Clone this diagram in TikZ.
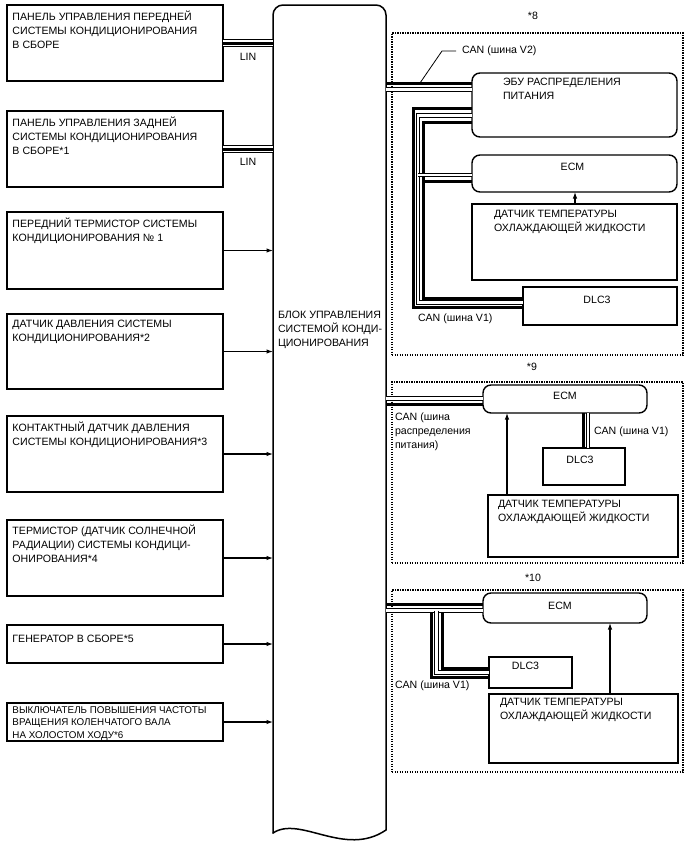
\documentclass[tikz,border=0pt]{standalone}
\usepackage{fontspec}
\setmainfont{Liberation Sans}
\usetikzlibrary{arrows.meta}

\begin{document}
\begin{tikzpicture}[x=1pt,y=1pt,inner sep=0pt,outer sep=0pt,line width=1.4pt,
font=\fontsize{10.6}{14}\selectfont,>={Latex[length=6.5pt,width=4.5pt]},
sysbox/.style={draw,rectangle,anchor=north west,line width=1.4pt},
ecubox/.style={sysbox,rounded corners=8pt},
txt/.style={anchor=north west,align=left,execute at begin node=\strut},
tl/.style={txt,xshift=5.5pt,yshift=-5.8pt},
tc/.style={anchor=north,yshift=-5.8pt,execute at begin node=\strut},
grp/.style={draw,rectangle,anchor=north west,line width=1.2pt,dash pattern=on 1.2pt off 1.3pt},
sig/.style={->,line width=1.1pt},
wthk/.style={line width=3pt},
wdbl/.style={line width=1pt,double=white,double distance=2.2pt},
linbus/.style={line width=8.5pt,postaction={draw=white,line width=6.3pt},postaction={draw=black,line width=3pt}}]

\useasboundingbox (0,0) rectangle (688,-852);

%%% Central A/C control unit %%%%%
\path (273,-5) node[anchor=north west,minimum width=113pt,minimum height=828pt] (acecu) {};
\draw[line width=1.5pt,line cap=round,rounded corners=10pt] (acecu.south west) -- (acecu.north west) -- (acecu.north east) -- ([yshift=3pt]acecu.south east);
\draw[line width=1.5pt,line cap=round] ([yshift=3pt]acecu.south east) .. controls +(-41,-28) and +(27,18) .. (acecu.south west);
\draw (278,-311) node[txt] (acecutxt) {БЛОК УПРАВЛЕНИЯ\\СИСТЕМОЙ КОНДИ-\\ЦИОНИРОВАНИЯ};

%%% Inputs on the left %%%%%
\draw (7,-5) node[sysbox,minimum width=216pt,minimum height=76pt,
  label={[tl]north west:{ПАНЕЛЬ УПРАВЛЕНИЯ ПЕРЕДНЕЙ\\СИСТЕМЫ КОНДИЦИОНИРОВАНИЯ\\В СБОРЕ}}] (pfront) {};
\draw (7,-111) node[sysbox,minimum width=216pt,minimum height=76pt,
  label={[tl]north west:{ПАНЕЛЬ УПРАВЛЕНИЯ ЗАДНЕЙ\\СИСТЕМЫ КОНДИЦИОНИРОВАНИЯ\\В СБОРЕ*1}}] (prear) {};
\draw (7,-212) node[sysbox,minimum width=216pt,minimum height=77pt,
  label={[tl]north west:{ПЕРЕДНИЙ ТЕРМИСТОР СИСТЕМЫ\\КОНДИЦИОНИРОВАНИЯ № 1}}] (thfront) {};
\draw (7,-314) node[sysbox,minimum width=216pt,minimum height=75pt,
  label={[tl]north west:{ДАТЧИК ДАВЛЕНИЯ СИСТЕМЫ\\КОНДИЦИОНИРОВАНИЯ*2}}] (psens) {};
\draw (7,-416) node[sysbox,minimum width=216pt,minimum height=76pt,
  label={[tl]north west:{КОНТАКТНЫЙ ДАТЧИК ДАВЛЕНИЯ\\СИСТЕМЫ КОНДИЦИОНИРОВАНИЯ*3}}] (pswitch) {};
\draw (7,-520) node[sysbox,minimum width=216pt,minimum height=76pt,
  label={[tl,yshift=1pt]north west:{ТЕРМИСТОР (ДАТЧИК СОЛНЕЧНОЙ\\РАДИАЦИИ) СИСТЕМЫ КОНДИЦИ-\\ОНИРОВАНИЯ*4}}] (solar) {};
\draw (7,-625) node[sysbox,minimum width=216pt,minimum height=38pt,
  label={[tl,yshift=-2pt]north west:{ГЕНЕРАТОР В СБОРЕ*5}}] (alt) {};
\draw (7,-703) node[sysbox,minimum width=216pt,minimum height=38pt,
  label={[tl,yshift=2.3pt,font=\fontsize{9.8}{12.5}\selectfont]north west:{ВЫКЛЮЧАТЕЛЬ ПОВЫШЕНИЯ ЧАСТОТЫ\\ВРАЩЕНИЯ КОЛЕНЧАТОГО ВАЛА\\НА ХОЛОСТОМ ХОДУ*6}}] (idlesw) {};

%%% Left connections
	\draw[linbus] (pfront.east) -- (pfront.east -| acecu.west) node[pos=0.5,below=10pt] (lin1) {LIN};
	\draw[linbus] (prear.east) -- (prear.east -| acecu.west) node[pos=0.5,below=9.5pt] (lin2) {LIN};
\draw[sig] (thfront.east) -- (thfront.east -| acecu.west);
\draw[sig] (psens.east) -- (psens.east -| acecu.west);
\draw[sig] (pswitch.east) -- (pswitch.east -| acecu.west);
\draw[sig] (solar.east) -- (solar.east -| acecu.west);
\draw[sig] (alt.east) -- (alt.east -| acecu.west);
\draw[sig] (idlesw.east) -- (idlesw.east -| acecu.west);

%%% Variant *8 %%%%%
\draw (533,-16) node (n8) {*8};
\draw (392,-33) node[grp,minimum width=291pt,minimum height=322pt] (g8) {};
\draw (472,-73) node[ecubox,minimum width=205pt,minimum height=64pt,
  label={[tl,xshift=25.5pt,yshift=1pt]north west:{ЭБУ РАСПРЕДЕЛЕНИЯ\\ПИТАНИЯ}}] (ebuA) {};
\draw (472,-155) node[ecubox,minimum width=205pt,minimum height=37pt,label={[tc,xshift=-2pt]north:ECM}] (ecmA) {};
\draw (472,-204) node[sysbox,minimum width=205pt,minimum height=76pt,
  label={[tl,xshift=16.5pt]north west:{ДАТЧИК ТЕМПЕРАТУРЫ\\ОХЛАЖДАЮЩЕЙ ЖИДКОСТИ}}] (sensA) {};
\draw (523,-287) node[sysbox,minimum width=154pt,minimum height=38pt,label={[tc,xshift=-3pt,yshift=-1pt]north:DLC3}] (dlcA) {};

	%%% CAN V2 to the power distribution ECU
	\draw[wthk] ([yshift=22pt]ebuA.west) -- ([yshift=22pt]ebuA.west -| acecu.east);
	\draw[wdbl] ([yshift=15.5pt]ebuA.west) -- ([yshift=15.5pt]ebuA.west -| acecu.east);
	\coordinate (v2pt) at ([xshift=-52pt,yshift=22pt]ebuA.west);
	\draw[line width=0.8pt] (v2pt) -- ++(22,32) -- ++(14,0) node[right=6pt] (canv2) {CAN (шина V2)};

	%%% CAN V1 bundle
	\draw[wthk] ([yshift=-3.5pt]ebuA.west) -- ++(-59,0) |- ([yshift=-1.5pt]dlcA.west);
	\draw[wdbl] ([yshift=-10.5pt]ebuA.west) -- ++(-54,0) |- ([yshift=3.5pt]dlcA.west);
	\draw[wthk] ([yshift=-17pt]ebuA.west) -- ++(-49,0) |- ([yshift=8pt]dlcA.west);
	\draw[wthk] ([yshift=-7.5pt]ecmA.west) -- ++(-49,0);
	\draw[wdbl] ([yshift=-1.5pt]ecmA.west) -- ++(-54,0);
\draw (418,-312) node[txt] (canv1a) {CAN (шина V1)};
\draw[sig] ([xshift=103pt]sensA.north west) -- ([xshift=103pt]sensA.north west |- ecmA.south);

%%% Variant *9 %%%%%
\draw (532,-367) node (n9) {*9};
\draw (392,-382) node[grp,minimum width=291pt,minimum height=181pt] (g9) {};
\draw (483,-385) node[ecubox,minimum width=164pt,minimum height=28pt,label={[tc,yshift=1pt]north:ECM}] (ecmB) {};
\draw (543,-448) node[sysbox,minimum width=82pt,minimum height=37pt,label={[tc,xshift=-4pt]north:DLC3}] (dlcB) {};
\draw (488,-495) node[sysbox,minimum width=190pt,minimum height=62pt,
  label={[tl,xshift=4.5pt,yshift=1pt]north west:{ДАТЧИК ТЕМПЕРАТУРЫ\\ОХЛАЖДАЮЩЕЙ ЖИДКОСТИ}}] (sensB) {};

	\draw[wdbl] ([yshift=0.5pt]ecmB.west) -- ([yshift=0.5pt]ecmB.west -| acecu.east);
	\draw[wthk] ([yshift=-5pt]ecmB.west) -- ([yshift=-5pt]ecmB.west -| acecu.east);
\draw (395,-413) node[txt] (canpwr) {CAN (шина\\распределения\\питания)};
	\draw[wthk] ([xshift=18pt]ecmB.south) -- ([xshift=18pt]ecmB.south |- dlcB.north);
	\draw[wdbl] ([xshift=23pt]ecmB.south) -- ([xshift=23pt]ecmB.south |- dlcB.north);
\draw (594,-425) node[txt] (canv1b) {CAN (шина V1)};
\draw[sig] ([xshift=19pt]sensB.north west) -- ([xshift=19pt]sensB.north west |- ecmB.south);

%%% Variant *10 %%%%%
\draw (533,-578) node (n10) {*10};
\draw (392,-590) node[grp,minimum width=291pt,minimum height=182pt] (g10) {};
\draw (483,-593) node[ecubox,minimum width=164pt,minimum height=30pt,label={[tc,yshift=-1pt,xshift=-5pt]north:ECM}] (ecmC) {};
\draw (489,-657) node[sysbox,minimum width=83pt,minimum height=31pt,label={[tc,yshift=3pt,xshift=-5pt]north:DLC3}] (dlcC) {};
\draw (489,-694) node[sysbox,minimum width=189pt,minimum height=69pt,
  label={[tl,xshift=5.5pt,yshift=2pt]north west:{ДАТЧИК ТЕМПЕРАТУРЫ\\ОХЛАЖДАЮЩЕЙ ЖИДКОСТИ}}] (sensC) {};

	\draw[wthk] ([yshift=4pt]ecmC.west) -- ([yshift=4pt]ecmC.west -| acecu.east);
	\draw[wdbl] ([yshift=-2.5pt]ecmC.west) -- ([yshift=-2.5pt]ecmC.west -| acecu.east);
	%%% Include the branch point for DLC3 (jC)
	\coordinate (jC) at ([xshift=-46.5pt,yshift=-2.5pt]ecmC.west);
	\draw[wdbl] (jC) |- (dlcC.west);
	\draw[wthk] ([xshift=-5.5pt,yshift=-1.5pt]jC) |- ([yshift=-4.5pt]dlcC.west);
	\draw[wthk] ([xshift=5.5pt,yshift=-1.5pt]jC) |- ([yshift=4.5pt]dlcC.west);
\draw (395,-679) node[txt] (canv1c) {CAN (шина V1)};
\draw[sig] ([xshift=121pt]sensC.north west) -- ([xshift=121pt]sensC.north west |- ecmC.south);

\end{tikzpicture}
\end{document}
